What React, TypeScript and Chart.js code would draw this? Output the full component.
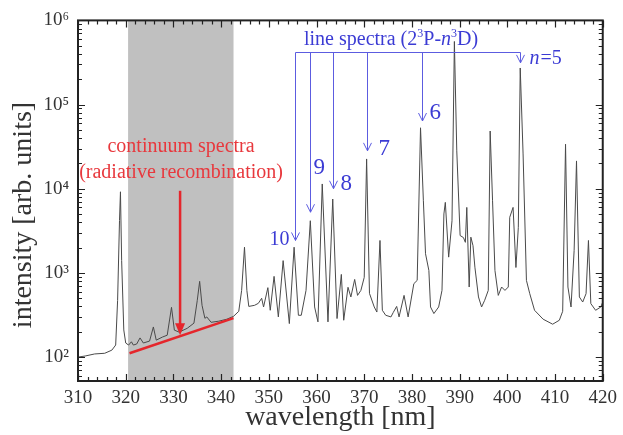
import React, { useEffect, useRef } from 'react';
import { Chart, registerables } from 'chart.js';

Chart.register(...registerables);

// ---- data ----
const wavelength = [
  310.0, 311.5, 313.5, 315.6, 317.1, 317.9, 318.3, 318.7, 318.9, 319.15, 319.6, 320.0,
  320.6, 321.2, 321.6, 322.3, 323.0, 323.7, 325.0, 325.8, 326.4, 327.7, 328.7, 329.6,
  330.2, 331.2, 332.9, 334.3, 335.0, 335.5, 336.0, 336.6, 337.0, 337.9, 339.5, 341.2,
  342.6, 343.7, 344.3, 344.9, 345.4, 345.8, 347.0, 347.8, 348.5, 348.9, 349.8, 350.3,
  351.1, 352.0, 353.0, 354.3, 355.3, 356.2, 356.8, 357.8, 358.7, 359.6, 360.3, 361.2,
  362.4, 363.4, 364.3, 365.2, 365.7, 366.6, 367.2, 368.0, 368.6, 369.3, 370.0, 370.5,
  371.1, 372.1, 372.65, 373.3, 373.8, 374.5, 375.6, 376.1, 376.8, 377.3, 378.35, 379.2,
  380.4, 381.1, 381.8, 382.4, 382.85, 383.55, 383.9, 384.6, 385.6, 386.3, 386.7, 387.0,
  387.7, 388.4, 388.9, 389.4, 390.1, 390.8, 391.2, 391.5, 392.0, 392.35, 392.8, 393.2,
  393.95, 394.6, 395.25, 396.0, 396.4, 396.9, 397.4, 398.1, 398.8, 399.5, 400.2, 400.5,
  401.2, 401.8, 402.3, 402.7, 403.3, 404.0, 404.7, 405.7, 407.5, 409.5, 410.9, 411.6,
  412.2, 412.7, 413.35, 414.0, 414.5, 415.1, 415.8, 416.5, 417.0, 417.5, 418.5, 419.6,
  420.0,
];
const intensity = [
  100, 103, 109, 111, 121, 139, 470, 4200, 9200, 1400, 210, 147,
  139, 152, 139, 143, 169, 147, 155, 228, 159, 173, 182, 390,
  209, 198, 220, 253, 470, 794, 412, 289, 300, 259, 267, 282,
  305, 350, 620, 2020, 620, 400, 412, 435, 500, 394, 668, 360,
  910, 300, 1400, 250, 2020, 314, 314, 620, 4170, 394, 262, 11400,
  262, 7550, 287, 960, 274, 675, 518, 837, 541, 620, 885, 22600,
  571, 394, 343, 2430, 360, 314, 300, 340, 400, 300, 541, 300,
  745, 815, 53000, 7200, 1690, 1070, 394, 329, 394, 620, 5020, 6890,
  1540, 4170, 562000, 28200, 2780, 2630, 2310, 6000, 680, 2660, 2110, 1170,
  518, 394, 473, 620, 48500, 7200, 1070, 541, 680, 620, 680, 4580,
  6000, 1160, 3480, 272000, 25900, 815, 567, 360, 282, 246, 274, 350,
  33800, 680, 394, 1850, 21400, 518, 451, 567, 2430, 432, 360, 394,
  451,
];

const xTicks = [310, 320, 330, 340, 350, 360, 370, 380, 390, 400, 410, 420];
const yTicks = [1e2, 1e3, 1e4, 1e5, 1e6];
const yTickLabels = ['10²', '10³', '10⁴', '10⁵', '10⁶'];
const xTitle = 'wavelength [nm]';
const yTitle = 'intensity [arb. units]';

const shadedBand = [320.5, 342.6];
const continuumLineX = [320.8, 342.6];
const continuumLineY = [111, 290];
const continuumArrowX = 331.4;
const continuumArrowFrom = 9460;
const continuumArrowTo = 182;
const continuumLabels = ['continuum spectra', '(radiative recombination)'];
const continuumLabelX = 331.6;
const continuumLabelY = [31400, 15500];

const seriesN = ['10', '9', '8', '7', '6', 'n=5'];
const seriesX = [355.44, 358.72, 363.55, 370.62, 382.01, 402.74];
const seriesTip = [2430, 5260, 10000, 28200, 63800, 313000];
const bracketValue = 422000;

// ---- style / placement ----
const FONT = "'Liberation Serif', 'DejaVu Serif', serif";
const BLUE_TEXT = '#3b3bd4';
const BLUE_LINE = '#5c5ce0';
const RED = '#e5262c';
const RED_TEXT = '#e8383d';
const labelOffsets = [
  { dx: -6, dy: -1, align: 'right', size: 20 },
  { dx: 3, dy: -44, align: 'left', size: 23 },
  { dx: 7, dy: -5, align: 'left', size: 23 },
  { dx: 11, dy: -2, align: 'left', size: 23 },
  { dx: 7, dy: -8, align: 'left', size: 23 },
  { dx: 9, dy: -4, align: 'left', size: 20 },
];

const decorPlugin = {
  id: 'decor',
  beforeDatasetsDraw(chart: any) {
    const { ctx, chartArea: a, scales } = chart;
    const x = scales.x;
    const x0 = x.getPixelForValue(shadedBand[0]);
    const x1 = x.getPixelForValue(shadedBand[1]);
    ctx.save();
    ctx.fillStyle = '#c0c0c0';
    ctx.fillRect(x0, a.top, x1 - x0, a.bottom - a.top);
    ctx.restore();
  },
  afterDatasetsDraw(chart: any) {
    const { ctx, chartArea: a, scales } = chart;
    const x = scales.x;
    const y = scales.y;
    ctx.save();

    // frame
    ctx.strokeStyle = '#222';
    ctx.lineWidth = 2;
    ctx.strokeRect(a.left, a.top, a.right - a.left, a.bottom - a.top);

    // ticks (inward, all sides)
    ctx.lineWidth = 1.2;
    ctx.beginPath();
    for (let v = 310; v <= 420; v += 2) {
      const px = Math.round(x.getPixelForValue(v)) + 0.5;
      const len = v % 10 === 0 ? 7 : 4;
      ctx.moveTo(px, a.bottom); ctx.lineTo(px, a.bottom - len);
      ctx.moveTo(px, a.top); ctx.lineTo(px, a.top + len);
    }
    for (let e = 1; e <= 6; e++) {
      for (let m = 1; m <= 9; m++) {
        const v = m * Math.pow(10, e);
        if (v < y.min || v > y.max) continue;
        const py = Math.round(y.getPixelForValue(v)) + 0.5;
        const len = m === 1 ? 7 : 4;
        ctx.moveTo(a.left, py); ctx.lineTo(a.left + len, py);
        ctx.moveTo(a.right, py); ctx.lineTo(a.right - len, py);
        if (e === 6) break;
      }
    }
    ctx.stroke();

    // red arrow
    const ax = x.getPixelForValue(continuumArrowX);
    const ay0 = y.getPixelForValue(continuumArrowFrom);
    const ay1 = y.getPixelForValue(continuumArrowTo);
    ctx.strokeStyle = RED;
    ctx.fillStyle = RED;
    ctx.lineWidth = 2.5;
    ctx.beginPath();
    ctx.moveTo(ax, ay0); ctx.lineTo(ax, ay1 - 10);
    ctx.stroke();
    ctx.beginPath();
    ctx.moveTo(ax - 5, ay1 - 12); ctx.lineTo(ax + 5, ay1 - 12); ctx.lineTo(ax, ay1);
    ctx.closePath();
    ctx.fill();

    // red labels
    ctx.fillStyle = RED_TEXT;
    ctx.textAlign = 'center';
    ctx.textBaseline = 'middle';
    ctx.font = `20px ${FONT}`;
    continuumLabels.forEach((t, i) => {
      ctx.fillText(t, x.getPixelForValue(continuumLabelX), y.getPixelForValue(continuumLabelY[i]));
    });

    // blue line-series annotation
    const by = Math.round(y.getPixelForValue(bracketValue)) + 0.5;
    ctx.strokeStyle = BLUE_LINE;
    ctx.lineWidth = 1;
    ctx.beginPath();
    const xs = seriesX.map((v) => Math.round(x.getPixelForValue(v)) + 0.5);
    ctx.moveTo(xs[0], by); ctx.lineTo(xs[xs.length - 1], by);
    xs.forEach((px, i) => {
      const ty = y.getPixelForValue(seriesTip[i]);
      ctx.moveTo(px, by); ctx.lineTo(px, ty);
      ctx.moveTo(px - 4, ty - 8); ctx.lineTo(px, ty); ctx.lineTo(px + 4, ty - 8);
    });
    ctx.stroke();

    ctx.fillStyle = BLUE_TEXT;
    ctx.textBaseline = 'middle';
    seriesN.forEach((t, i) => {
      const o = labelOffsets[i];
      const tx = xs[i] + o.dx;
      const ty = y.getPixelForValue(seriesTip[i]) + o.dy;
      if (t.startsWith('n=')) {
        ctx.textAlign = 'left';
        ctx.font = `italic ${o.size}px ${FONT}`;
        ctx.fillText('n', tx, ty);
        const w = ctx.measureText('n').width;
        ctx.font = `${o.size}px ${FONT}`;
        ctx.fillText(t.slice(1), tx + w + 1, ty);
      } else {
        ctx.textAlign = o.align as CanvasTextAlign;
        ctx.font = `${o.size}px ${FONT}`;
        ctx.fillText(t, tx, ty);
      }
    });

    // "line spectra (2³P-n³D)"
    ctx.textAlign = 'left';
    ctx.textBaseline = 'alphabetic';
    let cx = xs[0] + 8.5;
    const base = by - 8;
    const parts: [string, string, number][] = [
      ['line spectra (2', 'n', 0],
      ['3', 's', -8],
      ['P-', 'n', 0],
      ['n', 'i', 0],
      ['3', 's', -8],
      ['D)', 'n', 0],
    ];
    parts.forEach(([t, k, dy]) => {
      ctx.font = k === 's' ? `12px ${FONT}` : k === 'i' ? `italic 20px ${FONT}` : `20px ${FONT}`;
      ctx.fillText(t, cx, base + dy);
      cx += ctx.measureText(t).width;
    });

    // y-axis title
    ctx.fillStyle = '#333';
    ctx.font = `28px ${FONT}`;
    ctx.textAlign = 'center';
    ctx.textBaseline = 'middle';
    ctx.translate(24, 215);
    ctx.rotate(-Math.PI / 2);
    ctx.fillText(yTitle, 0, 0);
    ctx.restore();
  },
};

export default function App() {
  const ref = useRef<HTMLCanvasElement>(null);
  useEffect(() => {
    const canvas = ref.current;
    if (!canvas) return;
    const chart = new Chart(canvas, {
      type: 'line',
      data: {
        datasets: [
          {
            label: 'spectrum',
            data: wavelength.map((w, i) => ({ x: w, y: intensity[i] })),
            borderColor: '#4a4a4a',
            borderWidth: 1,
            pointRadius: 0,
            tension: 0,
            order: 2,
          },
          {
            label: 'continuum',
            data: continuumLineX.map((w, i) => ({ x: w, y: continuumLineY[i] })),
            borderColor: RED,
            borderWidth: 2.5,
            pointRadius: 0,
            order: 1,
          },
        ],
      },
      options: {
        responsive: false,
        animation: false,
        layout: { padding: { top: 18, right: 15, left: 0, bottom: 0 } },
        plugins: { legend: { display: false }, tooltip: { enabled: false } },
        scales: {
          x: {
            type: 'linear',
            min: 310,
            max: 420,
            afterBuildTicks: (s: any) => { s.ticks = xTicks.map((v) => ({ value: v })); },
            afterFit: (s: any) => { s.height = 54; },
            ticks: {
              font: { family: FONT, size: 19 },
              color: '#333',
              padding: 6,
              maxRotation: 0,
              autoSkip: false,
              callback: (v: any) => String(v),
            },
            grid: { display: false, drawTicks: false },
            border: { display: false },
            title: {
              display: true,
              text: xTitle,
              font: { family: FONT, size: 28 },
              color: '#333',
              padding: { top: 0, bottom: 1 },
            },
          },
          y: {
            type: 'logarithmic',
            min: 52,
            max: 1e6,
            afterBuildTicks: (s: any) => { s.ticks = yTicks.map((v) => ({ value: v })); },
            afterFit: (s: any) => { s.width = 78; },
            ticks: {
              font: { family: FONT, size: 19 },
              color: '#333',
              padding: 9,
              autoSkip: false,
              callback: (v: any) => { const i = yTicks.indexOf(Number(v)); return i >= 0 ? yTickLabels[i] : ''; },
            },
            grid: { display: false, drawTicks: false },
            border: { display: false },
          },
        },
      },
      plugins: [decorPlugin],
    } as any);
    return () => chart.destroy();
  }, []);
  return (
    <div style={{ position: 'absolute', left: 0, top: 0, width: 623, height: 435, background: '#fff' }}>
      <canvas ref={ref} width={623} height={435} />
    </div>
  );
}
